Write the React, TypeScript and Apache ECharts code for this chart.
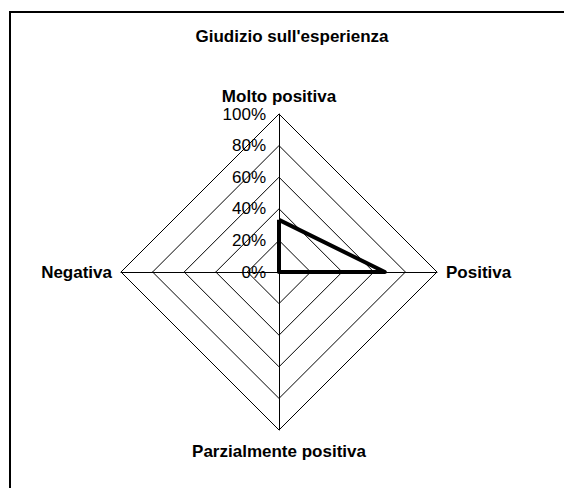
import React, { useEffect, useRef } from "react";
import * as echarts from "echarts";

const TITLE = "Giudizio sull'esperienza";
// counter-clockwise from the top (ECharts radar order)
const indicatorNames = ["Molto positiva", "Negativa", "Parzialmente positiva", "Positiva"];
const indicatorMax = [100, 100, 100, 100];
const seriesValues = [33, 0, 0, 67];
const SERIES_NAME = "Giudizio";

export default function App() {
  const ref = useRef<HTMLDivElement>(null);
  useEffect(() => {
    document.body.style.margin = "0";
    const chart = echarts.init(ref.current!, null, { renderer: "svg" });
    const font = "Arial, 'Liberation Sans', sans-serif";
    chart.setOption({
      animation: false,
      backgroundColor: "#ffffff",
      title: {
        text: TITLE,
        left: 287,
        top: 23,
        textAlign: "center",
        textStyle: { fontFamily: font, fontSize: 17, fontWeight: "bold", color: "#000" },
      },
      graphic: [
        {
          type: "rect",
          shape: { x: 10, y: 12, width: 600, height: 520 },
          style: { fill: "none", stroke: "#000", lineWidth: 2 },
          silent: true,
        },
      ],
      radar: {
        center: [279, 272],
        radius: 158,
        startAngle: 90,
        shape: "polygon",
        splitNumber: 5,
        nameGap: 9,
        axisName: {
          color: "#000",
          fontFamily: font,
          fontSize: 17,
          fontWeight: "bold",
          formatter: (name: string) => (name === "Parzialmente positiva" ? "{b|" + name + "}" : name),
          rich: {
            b: { color: "#000", fontFamily: font, fontSize: 17, fontWeight: "bold", padding: [4, 0, 0, 0] },
          },
        },
        axisLine: { lineStyle: { color: "#000", width: 1 } },
        splitLine: { lineStyle: { color: "#000", width: 1 } },
        splitArea: { show: false },
        axisTick: { show: false },
        axisLabel: {
          show: false,
          color: "#000",
          fontFamily: font,
          fontSize: 17,
          margin: 13,
          formatter: (v: number) => v + "%",
        },
        indicator: indicatorNames.map((name, i) => ({
          name,
          min: 0,
          max: indicatorMax[i],
          ...(i === 0 ? { axisLabel: { show: true, showMinLabel: true, showMaxLabel: true } } : {}),
        })),
      },
      series: [
        {
          type: "radar",
          name: SERIES_NAME,
          symbol: "none",
          lineStyle: { color: "#000", width: 4 },
          itemStyle: { color: "#000" },
          data: [{ value: seriesValues, name: SERIES_NAME }],
        },
      ],
    });
    return () => chart.dispose();
  }, []);
  return <div ref={ref} style={{ width: 564, height: 488 }} />;
}
